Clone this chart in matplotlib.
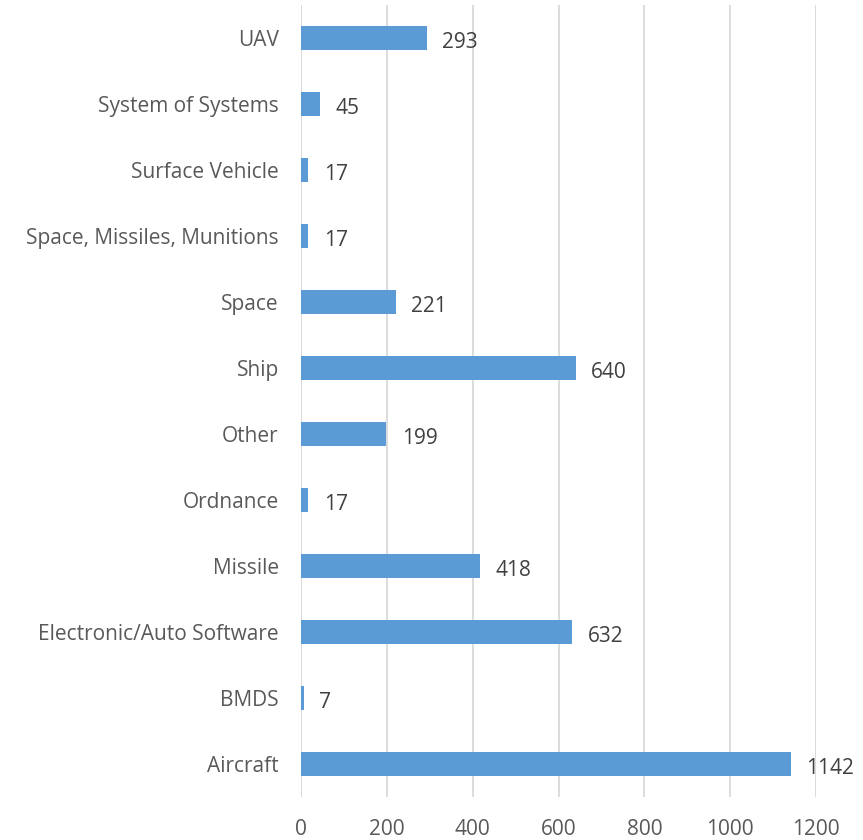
import numpy as np
import matplotlib
matplotlib.use("Agg")
import matplotlib.pyplot as plt

# categories, bottom to top
categories = ["Aircraft", "BMDS", "Electronic/Auto Software", "Missile", "Ordnance",
              "Other", "Ship", "Space", "Space, Missiles, Munitions",
              "Surface Vehicle", "System of Systems", "UAV"]
counts = [1142, 7, 632, 418, 17, 199, 640, 221, 17, 17, 45, 293]
xticks = [0, 200, 400, 600, 800, 1000, 1200]

plt.rcParams['font.family'] = ['Open Sans', 'DejaVu Sans']
text_col = '#595959'
bar_col = '#5B9BD5'

fig = plt.figure(figsize=(8.63, 8.4), dpi=100)
ax = fig.add_axes([301 / 863, 1 - 797 / 840, 515 / 863, 792 / 840])

y = np.arange(len(categories))
ax.barh(y, counts, height=0.35, color=bar_col, zorder=3)

for yi, v in zip(y, counts):
    ax.annotate(str(v), xy=(v, yi), xytext=(11, -3), textcoords='offset points',
                va='center', ha='left', fontsize=15, color='#404040')

ax.set_xlim(0, 1200)
ax.set_ylim(-0.5, len(categories) - 0.5)
ax.set_xticks(xticks)
ax.set_yticks(y)
ax.set_yticklabels(categories)
ax.tick_params(axis='both', length=0, labelsize=15, colors=text_col)
ax.tick_params(axis='y', pad=16)
ax.tick_params(axis='x', pad=16)
ax.grid(axis='x', color='#D9D9D9', linewidth=1.3, zorder=0)
for s in ax.spines.values():
    s.set_visible(False)

fig.savefig('out.png', dpi=100)
